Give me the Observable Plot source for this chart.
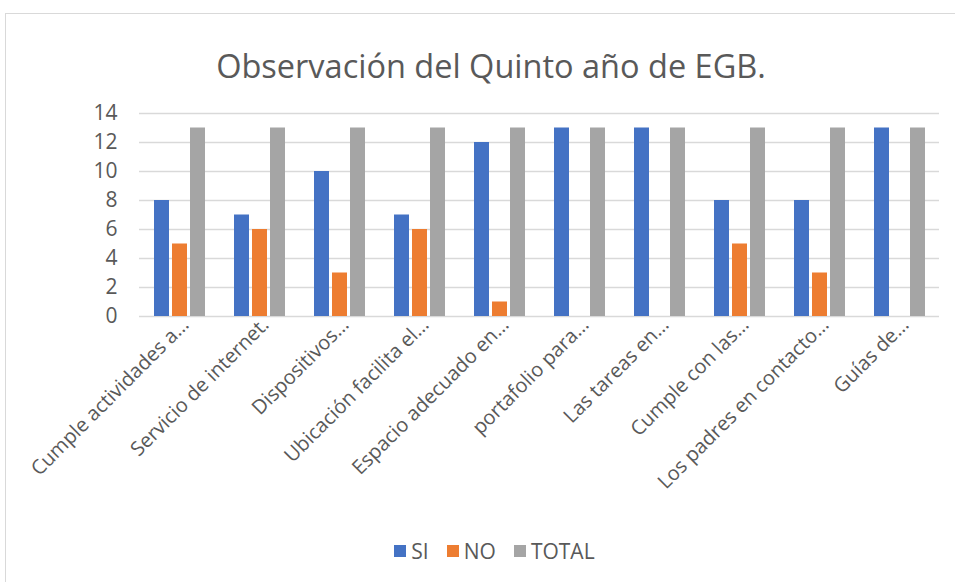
<!DOCTYPE html>
<html>
<head>
<meta charset="utf-8">
<script src="https://cdn.jsdelivr.net/npm/d3@7"></script>
<script src="https://cdn.jsdelivr.net/npm/@observablehq/plot@0.6"></script>
<style>
  html, body { margin: 0; padding: 0; background: #fff; }
  #wrap { position: relative; width: 955px; height: 582px; overflow: hidden; font-family: "Open Sans", sans-serif; }
  #frame { position: absolute; left: 5px; top: 13px; width: 960px; height: 580px; border: 1px solid #d9d9d9; box-sizing: border-box; }
  #title { position: absolute; left: 0; width: 982px; top: 43px; text-align: center; font-size: 32.5px; color: #595959; }
  #chart { position: absolute; left: 0; top: 95px; }
  #legend { position: absolute; left: 0; width: 989px; top: 537px; display: flex; justify-content: center; gap: 18px; font-size: 21px; color: #595959; }
  #legend span.item { display: flex; align-items: center; }
  #legend span.sw { width: 12px; height: 12px; display: inline-block; margin-right: 5px; }
</style>
</head>
<body>
<div id="wrap">
  <div id="frame"></div>
  <div id="title">Observación del Quinto año de EGB.</div>
  <div id="chart"></div>
  <div id="legend"></div>
</div>
<script>
const categories = [
  "Cumple actividades a…",
  "Servicio de internet.",
  "Dispositivos…",
  "Ubicación facilita el…",
  "Espacio adecuado en…",
  "portafolio para…",
  "Las tareas en…",
  "Cumple con las…",
  "Los padres en contacto…",
  "Guías de…"
];
const series = ["SI", "NO", "TOTAL"];
const siValues = [8, 7, 10, 7, 12, 13, 13, 8, 8, 13];
const noValues = [5, 6, 3, 6, 1, 0, 0, 5, 3, 0];
const totalValues = [13, 13, 13, 13, 13, 13, 13, 13, 13, 13];
const yTicks = [0, 2, 4, 6, 8, 10, 12, 14];
const colors = ["#4472C4", "#ED7D31", "#A5A5A5"];

const valuesBySeries = {SI: siValues, NO: noValues, TOTAL: totalValues};
const data = categories.flatMap((c, i) => series.map(s => ({cat: c, serie: s, value: valuesBySeries[s][i]})));

const chart = Plot.plot({
  width: 955,
  height: 430,
  marginTop: 18,
  marginBottom: 209,
  marginLeft: 138,
  marginRight: 15,
  style: {fontFamily: "Open Sans", fontSize: "19px", color: "#595959", background: "transparent", overflow: "visible"},
  fx: {domain: categories, paddingInner: 0, paddingOuter: 0, label: null, axis: null},
  x: {domain: series, paddingInner: 0.17, paddingOuter: 0.8, axis: null},
  y: {domain: [0, 14], label: null, axis: null},
  color: {domain: series, range: colors},
  marks: [
    Plot.ruleY(yTicks, {stroke: "#d9d9d9", strokeWidth: 1.5}),
    Plot.barY(data, {fx: "cat", x: "serie", y: "value", fill: "serie"}),
    Plot.axisY({ticks: yTicks, tickSize: 0, tickPadding: 22, fontSize: 21, label: null, fill: "#595959"}),
    Plot.axisFx({anchor: "bottom", tickRotate: -45, tickSize: 0, tickPadding: 5, dx: 6, fontSize: 20, label: null, fill: "#595959"})
  ]
});
document.getElementById("chart").appendChild(chart);

const legend = document.getElementById("legend");
series.forEach((s, i) => {
  const item = document.createElement("span");
  item.className = "item";
  const sw = document.createElement("span");
  sw.className = "sw";
  sw.style.background = colors[i];
  item.appendChild(sw);
  item.appendChild(document.createTextNode(s));
  legend.appendChild(item);
});
</script>
</body>
</html>
